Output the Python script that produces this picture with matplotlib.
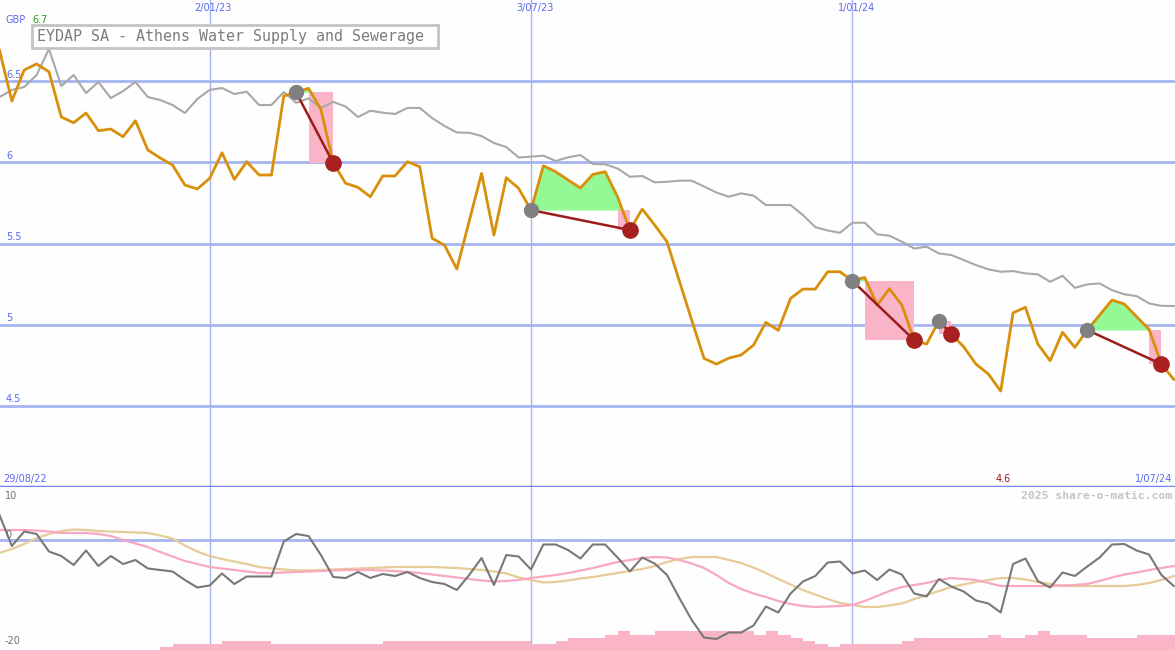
import numpy as np
import matplotlib
matplotlib.use("Agg")
import matplotlib.pyplot as plt
from matplotlib.patches import Rectangle

# weekly closes (GBP), 96 weeks from late Aug 2022 to Jul 2024
price = [6.69, 6.378, 6.569, 6.606, 6.558, 6.279, 6.244, 6.304, 6.195, 6.205,
         6.158, 6.256, 6.076, 6.027, 5.983, 5.860, 5.836, 5.901, 6.059, 5.895,
         6.004, 5.922, 5.922, 6.409, 6.431, 6.456, 6.327, 5.996, 5.871, 5.846,
         5.788, 5.916, 5.916, 6.004, 5.973, 5.532, 5.490, 5.343, 5.638, 5.932,
         5.552, 5.905, 5.840, 5.706, 5.979, 5.942, 5.891, 5.842, 5.926, 5.942,
         5.788, 5.583, 5.712, 5.614, 5.511, 5.269, 5.028, 4.792, 4.757, 4.794,
         4.813, 4.874, 5.014, 4.965, 5.162, 5.219, 5.219, 5.326, 5.326, 5.270,
         5.291, 5.121, 5.221, 5.121, 4.905, 4.880, 5.024, 4.942, 4.864, 4.757,
         4.696, 4.591, 5.073, 5.107, 4.881, 4.778, 4.953, 4.860, 4.967, 5.059,
         5.152, 5.127, 5.049, 4.971, 4.757, 4.663]

# relative / index line (grey)
relative = [6.402, 6.446, 6.464, 6.538, 6.698, 6.470, 6.538, 6.427, 6.495, 6.396,
            6.439, 6.495, 6.402, 6.384, 6.353, 6.304, 6.390, 6.446, 6.458, 6.421,
            6.435, 6.353, 6.353, 6.433, 6.367, 6.394, 6.335, 6.372, 6.344, 6.279,
            6.318, 6.306, 6.298, 6.335, 6.335, 6.273, 6.224, 6.184, 6.182, 6.162,
            6.119, 6.094, 6.030, 6.035, 6.041, 6.008, 6.031, 6.045, 5.990, 5.988,
            5.962, 5.911, 5.916, 5.877, 5.880, 5.887, 5.887, 5.851, 5.814, 5.788,
            5.809, 5.795, 5.737, 5.737, 5.737, 5.675, 5.601, 5.580, 5.566, 5.628,
            5.628, 5.556, 5.548, 5.511, 5.469, 5.480, 5.439, 5.429, 5.398, 5.367,
            5.341, 5.326, 5.330, 5.316, 5.310, 5.264, 5.301, 5.227, 5.248, 5.254,
            5.213, 5.187, 5.176, 5.131, 5.116, 5.115]

# lower panel oscillator and its two averages
momentum = [5.0, -1.2, 1.7, 1.2, -2.3, -3.2, -5.0, -2.1, -5.2, -3.2,
            -4.8, -4.0, -5.7, -6.0, -6.3, -8.0, -9.5, -9.1, -6.7, -8.8,
            -7.3, -7.3, -7.3, -0.3, 1.2, 0.8, -3.0, -7.4, -7.6, -6.4,
            -7.6, -6.8, -7.2, -6.4, -7.6, -8.4, -8.8, -10.0, -7.0, -3.6,
            -9.0, -3.0, -3.3, -5.9, -0.9, -0.9, -2.0, -3.7, -0.9, -0.9,
            -3.5, -6.3, -3.5, -4.7, -7.0, -11.6, -16.0, -19.5, -19.8, -18.5,
            -18.5, -17.1, -13.3, -14.5, -10.7, -8.3, -7.2, -4.5, -4.3, -6.7,
            -6.1, -8.0, -5.9, -6.9, -10.7, -11.3, -7.8, -9.3, -10.3, -12.1,
            -12.7, -14.5, -4.8, -3.7, -8.2, -9.5, -6.5, -7.2, -5.3, -3.5,
            -0.9, -0.8, -2.1, -2.9, -7.0, -9.2]

avg_fast = [2.0, 2.0, 2.0, 1.9, 1.7, 1.4, 1.4, 1.4, 1.2, 0.8,
            0.0, -0.7, -1.4, -2.4, -3.3, -4.2, -4.8, -5.4, -5.7, -6.0,
            -6.3, -6.6, -6.6, -6.5, -6.4, -6.3, -6.2, -6.1, -6.0, -6.0,
            -6.0, -6.1, -6.2, -6.4, -6.6, -6.9, -7.2, -7.5, -7.8, -8.1,
            -8.3, -8.2, -8.0, -7.6, -7.3, -7.0, -6.6, -6.1, -5.6, -5.0,
            -4.4, -4.0, -3.6, -3.4, -3.5, -4.0, -4.7, -5.6, -7.0, -8.6,
            -9.8, -10.7, -11.4, -12.2, -12.8, -13.2, -13.4, -13.3, -13.2, -13.0,
            -12.2, -11.2, -10.2, -9.4, -9.0, -8.6, -8.0, -7.6, -7.8, -8.0,
            -8.6, -9.2, -9.2, -9.2, -9.2, -9.2, -9.1, -9.0, -8.8, -8.2,
            -7.5, -6.9, -6.5, -6.0, -5.6, -5.2]

avg_slow = [-2.6, -1.8, -0.8, 0.4, 1.2, 1.8, 2.1, 2.0, 1.8, 1.7,
            1.6, 1.5, 1.4, 0.9, 0.3, -1.1, -2.3, -3.2, -3.8, -4.3,
            -4.8, -5.4, -5.7, -5.9, -6.1, -6.1, -6.0, -5.9, -5.8, -5.7,
            -5.6, -5.5, -5.4, -5.4, -5.4, -5.4, -5.5, -5.6, -5.8, -6.0,
            -6.3, -6.7, -7.5, -8.0, -8.5, -8.4, -8.1, -7.7, -7.4, -7.0,
            -6.6, -6.2, -5.8, -5.2, -4.4, -3.8, -3.4, -3.4, -3.4, -4.0,
            -4.6, -5.5, -6.6, -7.8, -8.9, -10.0, -10.9, -11.8, -12.6, -13.0,
            -13.4, -13.4, -13.1, -12.7, -11.8, -11.0, -10.2, -9.4, -8.9, -8.4,
            -8.0, -7.6, -7.6, -7.9, -8.4, -8.8, -9.2, -9.2, -9.2, -9.2,
            -9.2, -9.2, -9.0, -8.6, -8.0, -7.2]

volume = [0, 0, 0, 0, 0, 0, 0, 0, 0, 0,
          0, 0, 0, 3, 6, 6, 6, 6, 9, 9,
          9, 9, 6, 6, 6, 6, 6, 6, 6, 6,
          6, 9, 9, 9, 9, 9, 9, 9, 9, 9,
          9, 9, 9, 6, 6, 9, 12, 12, 12, 15,
          19, 15, 15, 19, 19, 19, 19, 19, 19, 19,
          19, 15, 19, 15, 12, 9, 6, 3, 6, 6,
          6, 6, 6, 9, 12, 12, 12, 12, 12, 12,
          15, 12, 12, 15, 19, 15, 15, 15, 12, 12,
          12, 12, 15, 15, 15, 15]

# (entry week, exit week) signals
trades = [(24, 27), (43, 51), (69, 74), (76, 77), (88, 94)]

date_labels = ["2/01/23", "3/07/23", "1/01/24"]
date_weeks = [17, 43, 69]
price_levels = [4.5, 5, 5.5, 6, 6.5]
price_level_labels = ["4.5", "5", "5.5", "6", "6.5"]

W, H = 1175, 650
BG = "#fdfefd"
GRID = "#a6b4f2"
LABEL_BLUE = "#5a6af0"

x = np.arange(len(price))
p = np.array(price)

fig = plt.figure(figsize=(W / 100, H / 100), dpi=100, facecolor=BG)
ax = fig.add_axes([0, 163 / H, 1, 487 / H])
ax2 = fig.add_axes([0, 0, 1, 163 / H])
for a in (ax, ax2):
    a.set_facecolor(BG)
    a.set_xlim(0.04, 95.1)
    a.set_xticks([])
    a.set_yticks([])
    for s in a.spines.values():
        s.set_visible(False)
    for w in date_weeks:
        a.axvline(w, color=GRID, lw=1, zorder=0)

ax.set_ylim(4.0, 7.0)
ax2.set_ylim(-22, 10.6)

# price grid
for lv, lab in zip(price_levels, price_level_labels):
    ax.axhline(lv, color=GRID, lw=2, zorder=0)
    ax.text(6 / W, lv + 0.01, lab, transform=ax.get_yaxis_transform(),
            color=LABEL_BLUE, fontsize=7, va="bottom", ha="left", zorder=1)
ax.axhline(4.0, color="#7585ee", lw=2.5, zorder=6, clip_on=False)

# signal shading
for a_i, b_i in trades:
    entry = p[a_i]
    seg = slice(a_i, b_i + 1)
    ax.fill_between(x[seg], p[seg], entry, where=p[seg] > entry,
                    interpolate=True, color="#94f894", lw=0, zorder=1)
    k = max(j for j in range(a_i, b_i) if p[j] >= entry)
    ax.fill_between([x[k], x[b_i]], p[b_i], entry, color="#f9b4c8", lw=0, zorder=1)

ax.plot(x, relative, color="#a8a8a8", lw=1.5, zorder=2)
ax.plot(x, p, color="#d8900a", lw=2, zorder=3)

for a_i, b_i in trades:
    ax.plot([x[a_i], x[b_i]], [p[a_i], p[b_i]], color="#9c1c1c", lw=1.8, zorder=4)
    ax.plot(x[a_i], p[a_i], "o", color="#808080", ms=10, zorder=5)
    ax.plot(x[b_i], p[b_i], "o", color="#a82020", ms=11, zorder=5)

# lower panel
ax2.axhline(0, color=GRID, lw=2, zorder=0)
ax2.bar(x, np.array(volume) * 0.2, bottom=-22, width=1.0, align="edge",
        color="#f9b4c8", lw=0, zorder=1)
ax2.plot(x, avg_slow, color="#e6cc98", lw=1.6, zorder=2)
ax2.plot(x, avg_fast, color="#f9a8c0", lw=1.6, zorder=2)
ax2.plot(x, momentum, color="#787878", lw=1.5, zorder=3)

# texts (figure pixel positions)
def ftext(px, py, s, **kw):
    fig.text(px / W, 1 - py / H, s, **kw)

ftext(5, 20, "GBP", color=LABEL_BLUE, fontsize=7, va="center", ha="left")
ftext(32, 20, "6.7", color="#22a022", fontsize=7, va="center", ha="left")
for w, lab in zip(date_weeks, date_labels):
    ax.text(w + 0.3, 6.95, lab, color=LABEL_BLUE, fontsize=7, ha="center", va="center")

# title box
fig.patches.append(Rectangle((32 / W, 1 - 48 / H), 406 / W, 23 / H, transform=fig.transFigure,
                             fc="white", ec="#c4c4c4", lw=2, zorder=7))
ftext(37, 36, "EYDAP SA - Athens Water Supply and Sewerage", family="DejaVu Sans Mono",
      color="#7c7c7c", fontsize=10.8, va="center", ha="left", zorder=8)

ftext(3, 479, "29/08/22", color=LABEL_BLUE, fontsize=7, va="center", ha="left")
ftext(1003, 479, "4.6", color="#a01818", fontsize=7, va="center", ha="center")
ftext(1172, 479, "1/07/24", color=LABEL_BLUE, fontsize=7, va="center", ha="right")
ftext(1172, 496, "2025 share-o-matic.com", family="DejaVu Sans Mono", color="#c4c4c4",
      fontsize=8.2, fontweight="bold", va="center", ha="right")
ftext(5, 496, "10", color="#707070", fontsize=7, va="center", ha="left")
ftext(5, 535, "0", color="#707070", fontsize=7, va="center", ha="left")
ftext(5, 641, "-20", color="#707070", fontsize=7, va="center", ha="left")

fig.savefig("out.png", dpi=100, facecolor=BG)
